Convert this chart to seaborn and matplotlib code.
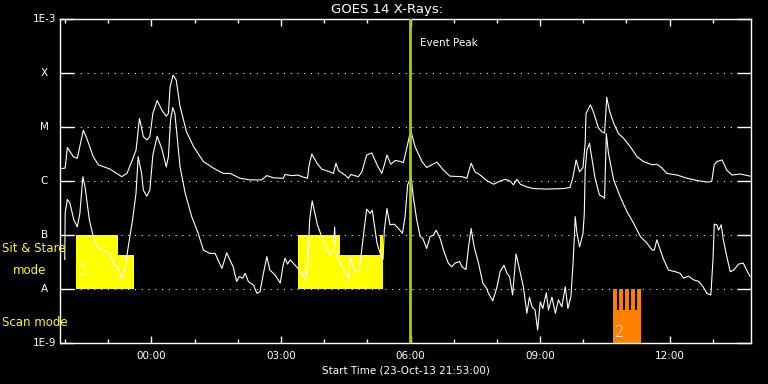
import matplotlib
matplotlib.use("Agg")
import numpy as np
import pandas as pd
import seaborn as sns
import matplotlib.pyplot as plt
import matplotlib.dates as mdates
from matplotlib.ticker import FixedLocator, NullLocator

# ---------------- data ----------------
start_time = pd.Timestamp("2013-10-23 21:53:00")
span_hours = 16.0

# GOES long channel (1-8 A), hours after start / log10 flux (W m^-2)
long_hours = [0.04,0.12,0.17,0.31,0.40,0.54,0.62,0.77,0.89,1.16,1.43,1.55,1.66,1.76,1.84,1.93,2.01,2.08,2.15,2.25,
              2.36,2.46,2.51,2.55,2.62,2.69,2.78,2.93,3.09,3.32,3.55,3.78,3.94,4.17,4.40,4.67,4.79,4.94,5.17,5.21,
              5.37,5.52,5.60,5.73,5.77,5.83,5.95,6.06,6.25,6.33,6.39,6.45,6.60,6.68,6.73,6.91,6.99,7.10,7.22,7.34,
              7.45,7.51,7.57,7.66,7.76,7.89,7.95,8.03,8.12,8.22,8.38,8.49,8.61,8.73,8.88,9.03,9.31,9.42,9.52,9.61,
              9.73,9.88,10.04,10.19,10.31,10.42,10.50,10.58,10.66,10.81,10.96,11.27,11.66,11.81,11.88,11.95,12.03,
              12.11,12.16,12.18,12.28,12.35,12.47,12.55,12.61,12.66,12.72,12.82,12.93,13.05,13.20,13.36,13.51,13.71,
              13.82,13.94,14.05,14.29,14.52,14.75,14.98,15.09,15.15,15.21,15.33,15.44,15.56,15.75,15.98]
long_log = [-5.77,-5.76,-5.38,-5.55,-5.58,-5.06,-5.21,-5.55,-5.70,-5.78,-5.92,-5.86,-5.64,-5.43,-4.84,-5.18,-5.24,-5.18,
            -4.75,-4.51,-4.69,-4.80,-4.75,-4.25,-4.04,-4.13,-4.62,-5.09,-5.36,-5.64,-5.76,-5.86,-5.86,-5.95,-5.98,-5.98,
            -5.90,-5.94,-5.95,-5.88,-5.90,-5.89,-5.92,-5.95,-5.70,-5.50,-5.67,-5.78,-5.83,-5.86,-5.67,-5.81,-5.89,-5.95,
            -5.88,-5.92,-5.83,-5.52,-5.48,-5.70,-5.86,-5.70,-5.52,-5.69,-5.62,-5.64,-5.66,-5.39,-5.06,-5.36,-5.64,-5.75,
            -5.70,-5.65,-5.80,-5.91,-5.92,-5.95,-5.67,-5.83,-5.89,-5.99,-6.06,-6.00,-5.97,-6.00,-6.07,-5.97,-6.06,-6.11,
            -6.14,-6.15,-6.14,-6.12,-5.92,-5.61,-5.83,-5.75,-5.30,-4.75,-4.59,-4.72,-5.02,-5.09,-5.11,-4.45,-4.69,-4.93,
            -5.12,-5.21,-5.36,-5.55,-5.64,-5.70,-5.69,-5.76,-5.86,-5.89,-5.95,-5.99,-6.02,-6.01,-5.70,-5.64,-5.61,-5.80,
            -5.89,-5.87,-5.91]

# GOES short channel (0.5-4 A)
short_hours = [0.11,0.12,0.17,0.23,0.32,0.40,0.46,0.53,0.58,0.68,0.77,0.85,1.00,1.14,1.23,1.35,1.43,1.51,1.58,1.68,
               1.76,1.81,1.89,1.93,2.01,2.08,2.15,2.25,2.36,2.46,2.51,2.56,2.61,2.66,2.78,2.90,3.05,3.20,3.32,3.47,
               3.59,3.75,3.86,3.95,4.01,4.09,4.15,4.23,4.29,4.36,4.48,4.56,4.63,4.71,4.79,4.86,4.98,5.10,5.16,5.21,
               5.27,5.33,5.48,5.60,5.68,5.74,5.78,5.84,5.96,6.10,6.25,6.33,6.36,6.38,6.42,6.53,6.68,6.73,6.83,6.93,
               7.01,7.10,7.18,7.23,7.34,7.40,7.48,7.51,7.57,7.64,7.74,7.84,7.93,7.99,8.05,8.13,8.18,8.26,8.34,8.40,
               8.49,8.57,8.65,8.71,8.80,8.88,8.99,9.07,9.15,9.25,9.31,9.40,9.46,9.52,9.59,9.69,9.79,9.88,9.92,10.02,
               10.12,10.19,10.28,10.35,10.41,10.48,10.56,10.66,10.73,10.81,10.87,10.93,11.00,11.06,11.12,11.18,11.26,
               11.31,11.39,11.47,11.54,11.62,11.70,11.76,11.83,11.88,11.91,11.93,11.97,12.03,12.11,12.14,12.16,12.20,
               12.26,12.31,12.39,12.49,12.57,12.61,12.65,12.70,12.82,12.97,13.13,13.28,13.44,13.59,13.71,13.76,13.82,
               13.90,13.98,14.09,14.25,14.36,14.44,14.55,14.67,14.79,14.89,14.98,15.07,15.12,15.15,15.21,15.25,15.31,
               15.36,15.44,15.52,15.60,15.71,15.82,15.90,15.98]
short_log = [-7.46,-6.59,-6.34,-6.41,-6.72,-6.85,-6.60,-5.92,-6.11,-6.72,-7.03,-7.22,-7.28,-7.33,-7.52,-7.62,-7.81,-7.59,
             -7.22,-6.72,-6.23,-5.55,-5.86,-6.17,-6.28,-6.17,-5.52,-5.17,-5.41,-5.74,-5.55,-4.87,-4.64,-4.75,-5.74,-6.23,
             -6.66,-6.97,-7.28,-7.34,-7.34,-7.62,-7.33,-7.49,-7.59,-7.86,-7.77,-7.80,-7.71,-7.86,-7.93,-8.08,-8.05,-7.71,
             -7.40,-7.65,-7.74,-7.89,-7.59,-7.43,-7.54,-7.46,-7.59,-7.71,-7.85,-7.52,-6.72,-6.37,-6.81,-7.12,-7.37,-7.28,
             -6.85,-7.30,-7.40,-7.59,-7.80,-7.43,-7.68,-7.65,-7.12,-6.52,-6.60,-6.54,-7.15,-7.31,-7.45,-6.91,-6.51,-6.81,
             -6.80,-6.88,-6.97,-6.66,-6.07,-5.92,-6.29,-6.72,-7.03,-7.06,-7.25,-7.03,-7.00,-6.91,-7.06,-7.28,-7.52,-7.59,
             -7.52,-7.49,-7.59,-7.64,-7.22,-6.88,-7.22,-7.52,-7.89,-7.99,-8.08,-8.22,-7.96,-7.68,-7.56,-7.71,-7.77,-8.11,
             -7.35,-7.71,-7.96,-8.45,-8.15,-8.33,-8.39,-8.76,-8.24,-8.36,-8.07,-8.39,-8.15,-8.45,-8.20,-8.33,-7.96,-8.36,
             -8.14,-7.52,-7.03,-6.66,-6.97,-7.22,-6.97,-6.60,-5.80,-5.43,-5.30,-5.55,-5.95,-6.26,-6.29,-6.32,-5.12,-5.49,
             -5.98,-6.29,-6.57,-6.78,-7.03,-7.15,-7.28,-7.28,-7.09,-7.28,-7.46,-7.65,-7.68,-7.71,-7.80,-7.76,-7.83,-7.86,
             -7.96,-8.08,-8.11,-7.46,-6.80,-6.81,-6.91,-6.81,-7.09,-7.40,-7.68,-7.65,-7.54,-7.52,-7.65,-7.77]

# flare class levels
level_values = [1e-9, 1e-8, 1e-7, 1e-6, 1e-5, 1e-4, 1e-3]
level_labels = ["1E-9", "A", "B", "C", "M", "X", "1E-3"]

# observing modes
sitstare_floor = 1e-8
sitstare0_hours = [0.37, 1.34, 1.72]
sitstare0_top = [1e-7, 4.2e-8, 4.2e-8]
sitstare1_hours = [5.51, 6.49, 7.41, 7.48]
sitstare1_top = [1e-7, 4.2e-8, 1e-7, 1e-7]
scan_floor = 1e-9
scan_hours = [12.80, 13.46]
scan_top = [1e-8, 1e-8]
scan_gap_hours = [12.92, 13.06, 13.20, 13.34]
scan_gap_bottom = 4.1e-9
block_labels = ["0", "1", "2"]
block_label_hours = [0.37, 5.51, 12.80]
block_label_flux = [2.1e-8, 2.4e-8, 1.55e-9]

event_peak = pd.Timestamp("2013-10-24 05:59:00")

# ---------------- plotting ----------------
def to_time(hours):
    return start_time + pd.to_timedelta(np.asarray(hours, dtype=float), unit="h")

sns.set_style("ticks", rc={"axes.facecolor": "black", "figure.facecolor": "black",
                           "axes.edgecolor": "white", "text.color": "white",
                           "xtick.color": "white", "ytick.color": "white",
                           "axes.labelcolor": "white"})
plt.rcParams["font.family"] = ["DejaVu Sans"]

fig = plt.figure(figsize=(7.68, 3.84), dpi=100, facecolor="black")
ax = fig.add_axes([60 / 768, 41 / 384, 691 / 768, 324 / 384], facecolor="black")
ax.set_yscale("log")

yellow = "#ffff00"
orange = "#ff8000"
ax.fill_between(to_time(sitstare0_hours), sitstare_floor, sitstare0_top, step="post",
                color=yellow, lw=0, zorder=1)
ax.fill_between(to_time(sitstare1_hours), sitstare_floor, sitstare1_top, step="post",
                color=yellow, lw=0, zorder=1)
ax.fill_between(to_time(scan_hours), scan_floor, scan_top, step="post",
                color=orange, lw=0, zorder=1)
ax.vlines(to_time(scan_gap_hours), scan_gap_bottom, scan_top[0], color="black", lw=1.5, zorder=1.5)

for lab, h, f in zip(block_labels, block_label_hours, block_label_flux):
    ax.annotate(lab, xy=(to_time([h])[0], f), xytext=(1.5, 0), textcoords="offset points",
                ha="left", va="center", color="white", fontsize=10.5, fontweight="light", zorder=2)

df_long = pd.DataFrame({"time": to_time(long_hours), "flux": 10.0 ** np.array(long_log)})
df_short = pd.DataFrame({"time": to_time(short_hours), "flux": 10.0 ** np.array(short_log)})
sns.lineplot(data=df_long, x="time", y="flux", color="white", lw=0.8, ax=ax,
             estimator=None, sort=False, zorder=3)
sns.lineplot(data=df_short, x="time", y="flux", color="white", lw=0.8, ax=ax,
             estimator=None, sort=False, zorder=3)

ax.axvline(event_peak, color="#9fd000", lw=2, zorder=4)
ax.annotate("Event Peak", xy=(event_peak, 3.6e-4), xytext=(7.2, 0), textcoords="offset points",
            ha="left", va="center", color="white", fontsize=7.5)

ax.set_xlim(start_time, start_time + pd.Timedelta(hours=span_hours))
ax.set_ylim(level_values[0], level_values[-1])

ax.xaxis.set_major_locator(mdates.HourLocator(byhour=[0, 3, 6, 9, 12, 15, 18, 21]))
ax.xaxis.set_major_formatter(mdates.DateFormatter("%H:%M"))
ax.xaxis.set_minor_locator(mdates.HourLocator(interval=1))
ax.yaxis.set_major_locator(FixedLocator(level_values))
ax.yaxis.set_minor_locator(NullLocator())

ax.tick_params(axis="y", which="major", direction="in", length=10, width=1, colors="white",
               left=True, right=True, labelleft=False)
ax.tick_params(axis="x", which="major", direction="in", length=5, width=1, colors="white",
               top=True, bottom=True, labelsize=7.5, pad=6)
ax.tick_params(axis="x", which="minor", direction="in", length=3, width=1, colors="white",
               top=True, bottom=True)

ax.grid(axis="y", which="major", color="white", linestyle=(0, (1, 5.5)), lw=0.75)
ax.grid(axis="x", visible=False)
for s in ax.spines.values():
    s.set_color("white")
    s.set_linewidth(1)
    s.set_visible(True)

ytrans = ax.get_yaxis_transform()
for v, lab in zip(level_values, level_labels):
    if lab.startswith("1E"):
        ax.text(-0.005, v, lab, transform=ytrans, ha="right", va="center", color="white", fontsize=7.5)
    else:
        ax.text(-0.023, v, lab, transform=ytrans, ha="center", va="center", color="white", fontsize=7.5)

ax.set_xlabel("Start Time (23-Oct-13 21:53:00)", color="white", fontsize=7.5, labelpad=3)
ax.set_ylabel("")

fig.text(387 / 768, 1 - 10 / 384, "GOES 14 X-Rays:", ha="center", va="center",
         color="white", fontsize=9.5)
fig.text(2 / 768, 1 - 249 / 384, "Sit & Stare", ha="left", va="center", color=yellow, fontsize=8.5)
fig.text(13 / 768, 1 - 271 / 384, "mode", ha="left", va="center", color=yellow, fontsize=8.5)
fig.text(2 / 768, 1 - 323 / 384, "Scan mode", ha="left", va="center", color=yellow, fontsize=8.5)

fig.savefig("out.png", dpi=100, facecolor="black")
